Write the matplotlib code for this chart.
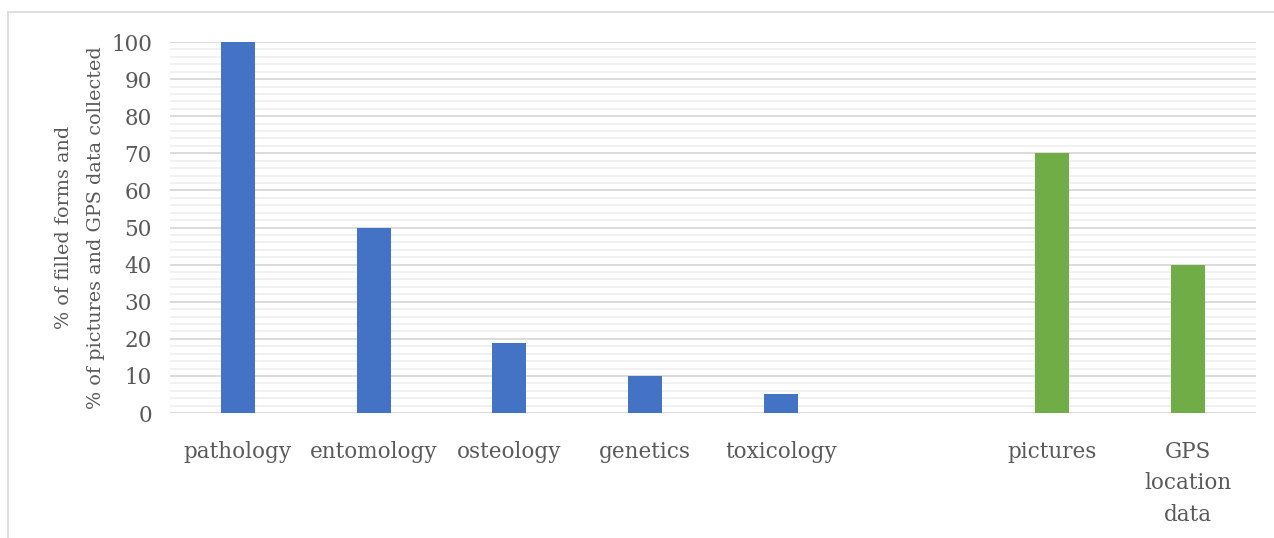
import matplotlib.pyplot as plt
from matplotlib.lines import Line2D
from matplotlib.ticker import MultipleLocator

# data
categories = ["pathology", "entomology", "osteology", "genetics", "toxicology",
              "", "pictures", "GPS\nlocation\ndata"]
values = [100, 50, 19, 10, 5, 0, 70, 40]
groups = ["form", "form", "form", "form", "form", "none", "media", "media"]
group_colors = {"form": "#4472C4", "media": "#70AD47", "none": "none"}

ylabel = "% of filled forms and\n% of pictures and GPS data collected"

plt.rcParams['font.family'] = ['DejaVu Serif']
txt = "#595959"

fig = plt.figure(figsize=(12.74, 5.38), dpi=100)
ax = fig.add_axes([0.1334, 0.2323, 0.8525, 0.6896])

x = list(range(len(categories)))
colors = [group_colors[g] for g in groups]
ax.bar(x, values, width=0.25, color=colors, zorder=3)

ax.set_xlim(-0.5, len(categories) - 0.5)
ax.set_ylim(0, 100)
ax.yaxis.set_major_locator(MultipleLocator(10))
ax.yaxis.set_minor_locator(MultipleLocator(2))
ax.grid(axis='y', which='major', color="#d9d9d9", linewidth=1.3, zorder=0)
ax.grid(axis='y', which='minor', color="#f0f0f0", linewidth=1.3, zorder=0)
ax.set_axisbelow(True)

ax.set_xticks(x)
ax.set_xticklabels(categories, linespacing=1.55)
ax.tick_params(axis='both', which='both', length=0, labelsize=15.5, labelcolor=txt)
ax.tick_params(axis='x', pad=20)
ax.tick_params(axis='y', pad=13)
for s in ax.spines.values():
    s.set_visible(False)

ax.set_ylabel(ylabel, fontsize=13.8, color=txt, labelpad=4, linespacing=2.0)

# chart area border (top and left visible)
fig.add_artist(Line2D([8 / 1274, 8 / 1274], [0, 1 - 12 / 538], transform=fig.transFigure,
                      color="#d9d9d9", linewidth=1.2))
fig.add_artist(Line2D([8 / 1274, 1], [1 - 12 / 538, 1 - 12 / 538], transform=fig.transFigure,
                      color="#d9d9d9", linewidth=1.2))

fig.savefig("out.png", dpi=100)
